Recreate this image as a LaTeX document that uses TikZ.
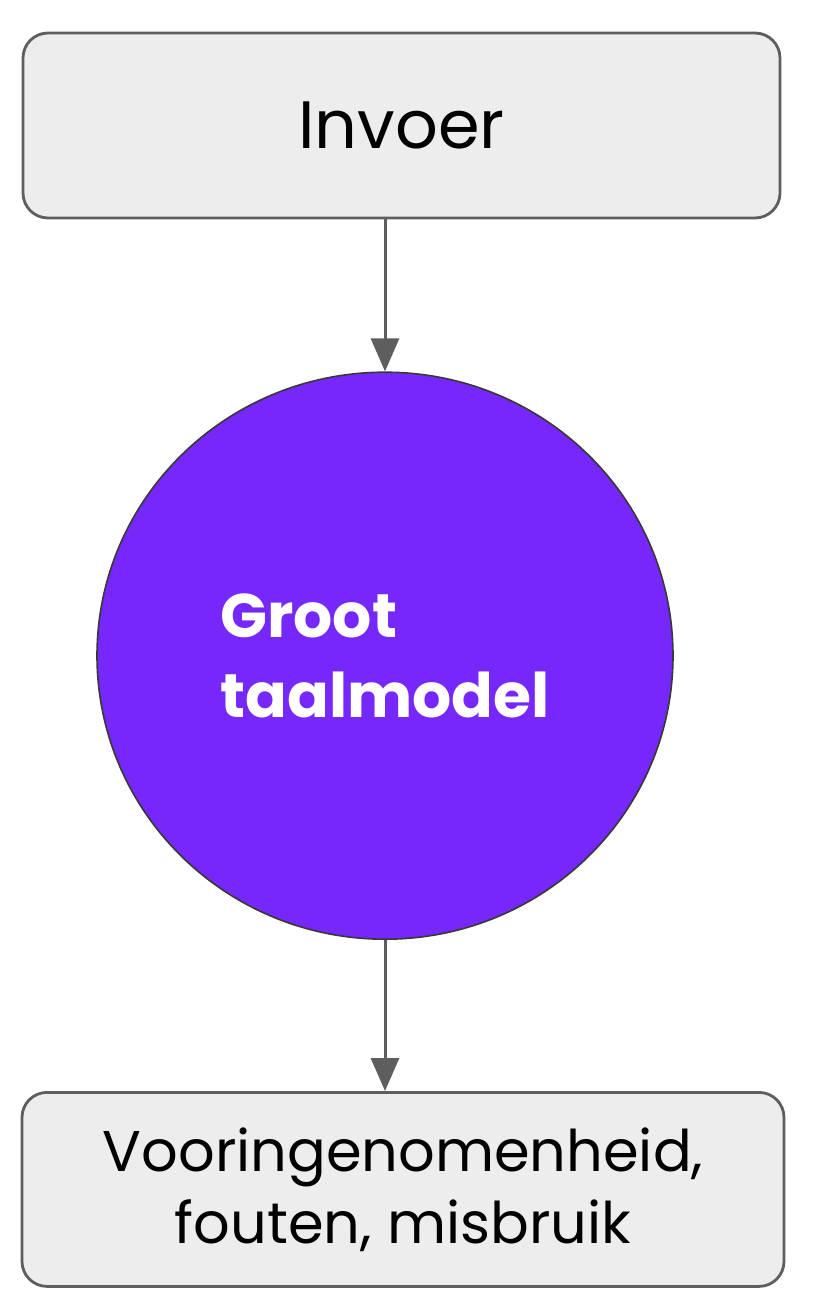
\documentclass[tikz,border=0pt]{standalone}
\usepackage{fontspec}
\setmainfont{Poppins}
\usetikzlibrary{positioning,arrows.meta,shapes.geometric}
\definecolor{boxgray}{HTML}{EDEDED}
\definecolor{linegray}{HTML}{5E5E5E}
\definecolor{llmpurple}{HTML}{7628FA}
\tikzset{stage/.style={draw=linegray,line width=1.4pt,fill=boxgray,rounded corners=12.5pt,align=center}}
\tikzset{model/.style={ellipse,draw=linegray!60!black,line width=0.8pt,fill=llmpurple,text=white,align=left}}
\tikzset{flow/.style={draw=linegray,line width=1.5pt,-{Triangle[length=16.5pt,width=14pt]}}}

\begin{document}
\begin{tikzpicture}[x=0.5pt,y=-0.5pt]
\useasboundingbox (0,0) rectangle (816,1312);
\node[stage,minimum width=378.5pt,minimum height=92.5pt,font=\fontsize{33.5}{40}\selectfont](input) at (401.5,125.5){Invoer};
\node[model,minimum width=288pt,minimum height=283.5pt,font=\fontsize{30.8}{40}\selectfont\bfseries](llm)[below=76pt of input,xshift=-8.25pt]{Groot\\taalmodel};
\node[stage,minimum width=381pt,minimum height=97pt,font=\fontsize{28.7}{36}\selectfont](output)[below=75.5pt of llm,xshift=9pt]{Vooringenomenheid,\\fouten, misbruik};
\draw[flow](input.south -| llm.north) -- (llm.north);
\draw[flow](llm.south) -- (llm.south |- output.north);
\end{tikzpicture}
\end{document}
